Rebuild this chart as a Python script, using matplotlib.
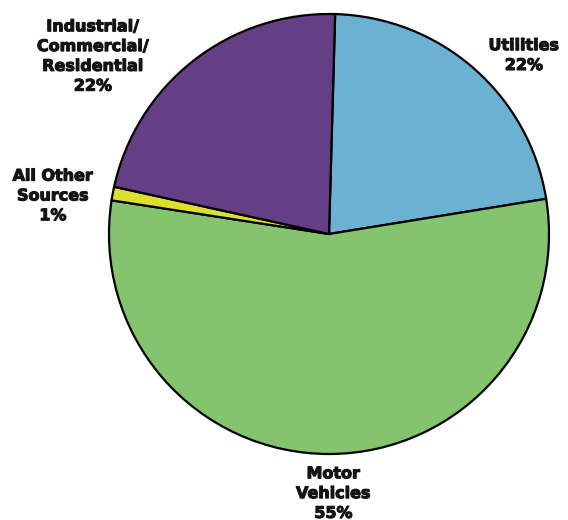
import matplotlib
matplotlib.use("Agg")
import matplotlib.pyplot as plt
import matplotlib.patheffects as pe

# emission sources, clockwise from the top
sources = ["Utilities", "Motor\nVehicles", "All Other\nSources", "Industrial/\nCommercial/\nResidential"]
shares = [22, 55, 1, 22]
colors = ["#6AB1D2", "#83C46C", "#DCDF2B", "#653F86"]

# where each label sits (pie radius = 1, centre = 0,0)
label_xy = [(0.886, 0.811), (0.02, -1.18), (-1.255, 0.173), (-1.073, 0.807)]

fig = plt.figure(figsize=(5.68, 5.20), dpi=100)
ax = fig.add_axes([0, 0, 1, 1])

ax.pie(shares, colors=colors, startangle=88.4, counterclock=False,
       radius=1.0, center=(0, 0),
       wedgeprops=dict(edgecolor="black", linewidth=1.6))

# thicken the bold glyphs a little
heavy = [pe.withStroke(linewidth=0.8, foreground="#141414")]
for name, val, (x, y) in zip(sources, shares, label_xy):
    ax.text(x, y, f"{name}\n{val}%", ha="center", va="center",
            fontsize=11.5, fontweight="heavy", family="DejaVu Sans",
            linespacing=1.4, color="#141414", path_effects=heavy)

ax.set_xlim(-329 / 220, (568 - 329) / 220)
ax.set_ylim((234 - 520) / 220, 234 / 220)
ax.set_aspect("equal")
ax.axis("off")

fig.savefig("out.png", dpi=100)
